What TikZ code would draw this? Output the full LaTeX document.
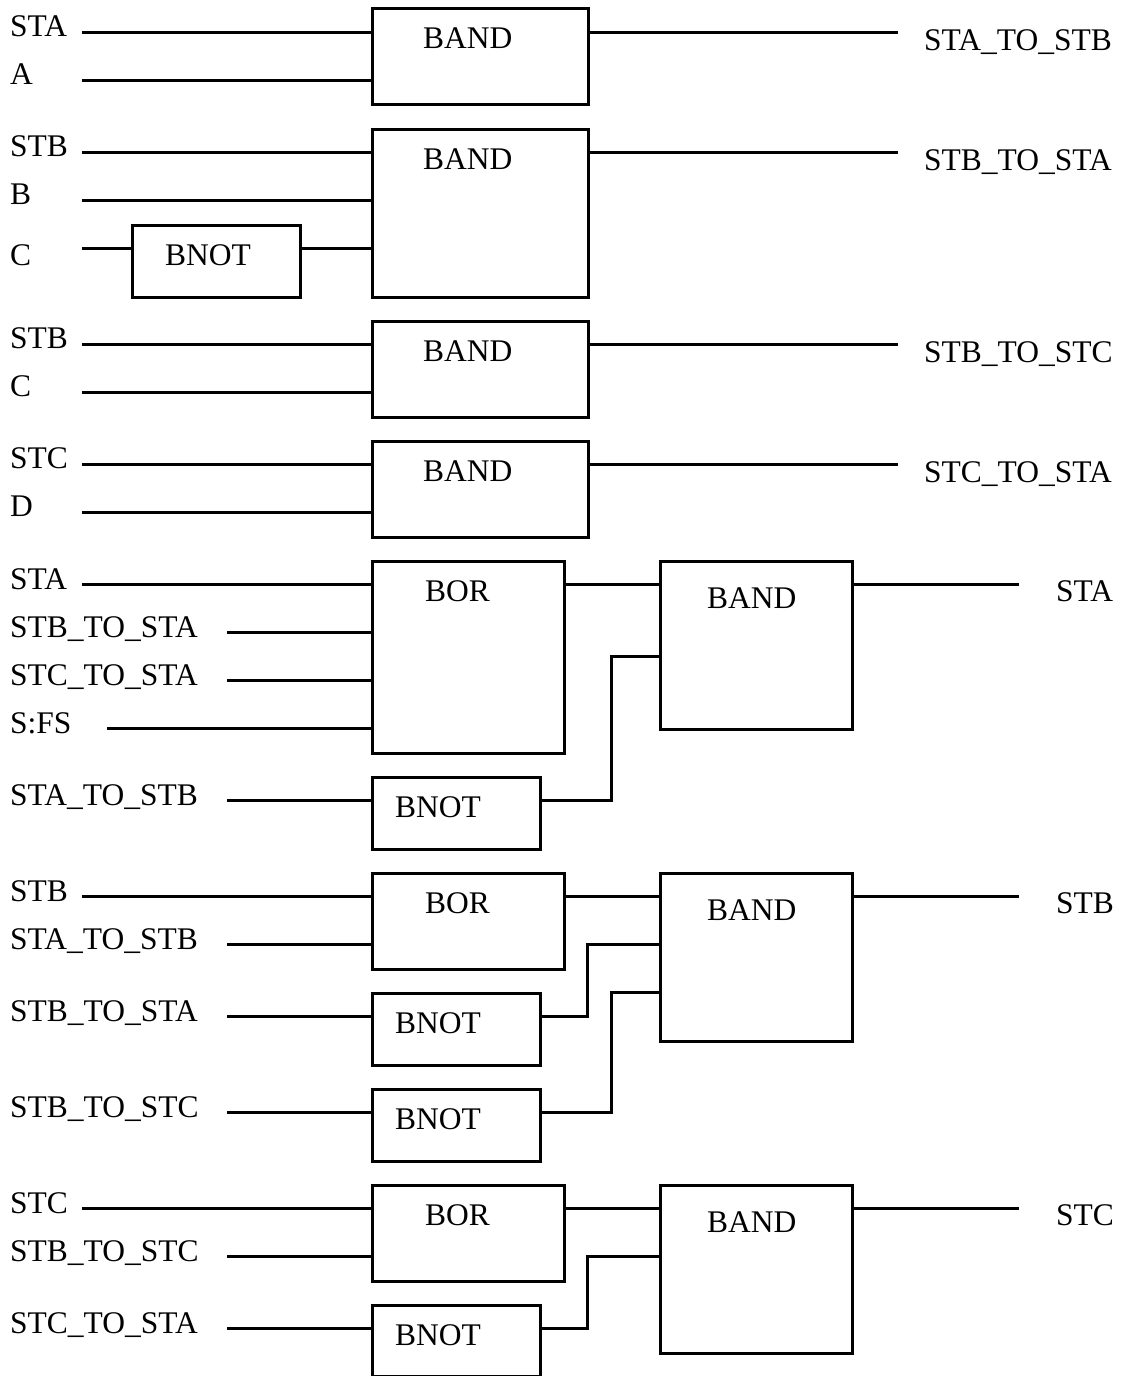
\documentclass[tikz,border=0pt]{standalone}
\usepackage{fontspec}
\setmainfont{Liberation Serif}
\usetikzlibrary{calc}

\tikzset{
  blk/.style={draw,line width=3pt,inner sep=0pt,anchor=north west},
  gname/.style={anchor=base west,inner sep=0pt,font=\fontsize{31.5}{36}\selectfont},
  sig/.style={anchor=base west,inner sep=0pt,font=\fontsize{31.5}{36}\selectfont},
  wire/.style={line width=3pt}
}

\begin{document}
\begin{tikzpicture}[x=1pt,y=-1pt]
  \useasboundingbox (0,0) rectangle (1125,1376);
  % STA_TO_STB
  \node[blk,minimum width=216pt,minimum height=96pt] (and1) at (371,7) {};
  \node[gname] (and1t) at ($(and1.north west)+(52,41)$) {BAND};
  \foreach \y/\x/\s/\n in {32/82/STA/a,80/82/A/b}{
    \node[sig] (l1\n) at (10,\y+4) {\s};
    \coordinate (i1\n) at (\x,\y);
    \draw[wire] (i1\n) -- (i1\n -| and1.west);
  }
  \coordinate (o1) at (898,32);
  \draw[wire] (and1.east |- o1) -- (o1);
  \node[sig] (r1) at (924,50) {STA\_TO\_STB};

  % STB_TO_STA
  \node[blk,minimum width=216pt,minimum height=168pt] (and2) at (371,128) {};
  \node[gname] (and2t) at ($(and2.north west)+(52,41)$) {BAND};
  \foreach \y/\x/\s/\n in {152/82/STB/a,200/82/B/b}{
    \node[sig] (l2\n) at (10,\y+4) {\s};
    \coordinate (i2\n) at (\x,\y);
    \draw[wire] (i2\n) -- (i2\n -| and2.west);
  }
  \node[blk,minimum width=168pt,minimum height=72pt] (not2) at (131,224) {};
  \node[gname] (not2t) at ($(not2.north west)+(34,41)$) {BNOT};
  \node[sig] (l2c) at (10,265) {C};
  \coordinate (i2c) at (82,248);
  \draw[wire] (i2c) -- (i2c -| not2.west);
  \draw[wire] (not2.east |- i2c) -- (i2c -| and2.west);
  \coordinate (o2) at (898,152);
  \draw[wire] (and2.east |- o2) -- (o2);
  \node[sig] (r2) at (924,170) {STB\_TO\_STA};

  % STB_TO_STC
  \node[blk,minimum width=216pt,minimum height=96pt] (and3) at (371,320) {};
  \node[gname] (and3t) at ($(and3.north west)+(52,41)$) {BAND};
  \foreach \y/\x/\s/\n in {344/82/STB/a,392/82/C/b}{
    \node[sig] (l3\n) at (10,\y+4) {\s};
    \coordinate (i3\n) at (\x,\y);
    \draw[wire] (i3\n) -- (i3\n -| and3.west);
  }
  \coordinate (o3) at (898,344);
  \draw[wire] (and3.east |- o3) -- (o3);
  \node[sig] (r3) at (924,362) {STB\_TO\_STC};

  % STC_TO_STA
  \node[blk,minimum width=216pt,minimum height=96pt] (and4) at (371,440) {};
  \node[gname] (and4t) at ($(and4.north west)+(52,41)$) {BAND};
  \foreach \y/\x/\s/\n in {464/82/STC/a,512/82/D/b}{
    \node[sig] (l4\n) at (10,\y+4) {\s};
    \coordinate (i4\n) at (\x,\y);
    \draw[wire] (i4\n) -- (i4\n -| and4.west);
  }
  \coordinate (o4) at (898,464);
  \draw[wire] (and4.east |- o4) -- (o4);
  \node[sig] (r4) at (924,482) {STC\_TO\_STA};

  % STA
  \node[blk,minimum width=192pt,minimum height=192pt] (or5) at (371,560) {};
  \node[gname] (or5t) at ($(or5.north west)+(54,41)$) {BOR};
  \foreach \y/\x/\s/\n in {584/82/STA/a,632/227/STB\_TO\_STA/b,680/227/STC\_TO\_STA/c,728/107/S:FS/d}{
    \node[sig] (l5\n) at (10,\y+5) {\s};
    \coordinate (i5\n) at (\x,\y);
    \draw[wire] (i5\n) -- (i5\n -| or5.west);
  }
  \node[blk,minimum width=168pt,minimum height=72pt] (not5) at (371,776) {};
  \node[gname] (not5t) at ($(not5.north west)+(24,41)$) {BNOT};
  \node[sig] (l5e) at (10,805) {STA\_TO\_STB};
  \coordinate (i5e) at (227,800);
  \draw[wire] (i5e) -- (i5e -| not5.west);
  \node[blk,minimum width=192pt,minimum height=168pt] (and5) at (659,560) {};
  \node[gname] (and5t) at ($(and5.north west)+(48,48)$) {BAND};
  \draw[wire] (or5.east |- i5a) -- (i5a -| and5.west);
  \coordinate (k5) at (611,656);
  \draw[wire] (not5.east |- i5e) -| (k5) -- (k5 -| and5.west);
  \coordinate (o5) at (1019,584);
  \draw[wire] (and5.east |- o5) -- (o5);
  \node[sig] (r5) at (1056,601) {STA};

  % STB
  \node[blk,minimum width=192pt,minimum height=96pt] (or6) at (371,872) {};
  \node[gname] (or6t) at ($(or6.north west)+(54,41)$) {BOR};
  \foreach \y/\x/\s/\n in {896/82/STB/a,944/227/STA\_TO\_STB/b}{
    \node[sig] (l6\n) at (10,\y+5) {\s};
    \coordinate (i6\n) at (\x,\y);
    \draw[wire] (i6\n) -- (i6\n -| or6.west);
  }
  \node[blk,minimum width=168pt,minimum height=72pt] (not6a) at (371,992) {};
  \node[gname] (not6at) at ($(not6a.north west)+(24,41)$) {BNOT};
  \node[blk,minimum width=168pt,minimum height=72pt] (not6b) at (371,1088) {};
  \node[gname] (not6bt) at ($(not6b.north west)+(24,41)$) {BNOT};
  \foreach \y/\s/\n in {1016/STB\_TO\_STA/c,1112/STB\_TO\_STC/d}{
    \node[sig] (l6\n) at (10,\y+5) {\s};
    \coordinate (i6\n) at (227,\y);
  }
  \draw[wire] (i6c) -- (i6c -| not6a.west);
  \draw[wire] (i6d) -- (i6d -| not6b.west);
  \node[blk,minimum width=192pt,minimum height=168pt] (and6) at (659,872) {};
  \node[gname] (and6t) at ($(and6.north west)+(48,48)$) {BAND};
  \draw[wire] (or6.east |- i6a) -- (i6a -| and6.west);
  \coordinate (k6a) at (587,944);
  \coordinate (k6b) at (611,992);
  \draw[wire] (not6a.east |- i6c) -| (k6a) -- (k6a -| and6.west);
  \draw[wire] (not6b.east |- i6d) -| (k6b) -- (k6b -| and6.west);
  \coordinate (o6) at (1019,896);
  \draw[wire] (and6.east |- o6) -- (o6);
  \node[sig] (r6) at (1056,913) {STB};

  % STC
  \node[blk,minimum width=192pt,minimum height=96pt] (or7) at (371,1184) {};
  \node[gname] (or7t) at ($(or7.north west)+(54,41)$) {BOR};
  \foreach \y/\x/\s/\n in {1208/82/STC/a,1256/227/STB\_TO\_STC/b}{
    \node[sig] (l7\n) at (10,\y+5) {\s};
    \coordinate (i7\n) at (\x,\y);
    \draw[wire] (i7\n) -- (i7\n -| or7.west);
  }
  \node[blk,minimum width=168pt,minimum height=71pt] (not7) at (371,1304) {};
  \node[gname] (not7t) at ($(not7.north west)+(24,41)$) {BNOT};
  \node[sig] (l7c) at (10,1333) {STC\_TO\_STA};
  \coordinate (i7c) at (227,1328);
  \draw[wire] (i7c) -- (i7c -| not7.west);
  \node[blk,minimum width=192pt,minimum height=168pt] (and7) at (659,1184) {};
  \node[gname] (and7t) at ($(and7.north west)+(48,48)$) {BAND};
  \draw[wire] (or7.east |- i7a) -- (i7a -| and7.west);
  \coordinate (k7) at (587,1256);
  \draw[wire] (not7.east |- i7c) -| (k7) -- (k7 -| and7.west);
  \coordinate (o7) at (1019,1208);
  \draw[wire] (and7.east |- o7) -- (o7);
  \node[sig] (r7) at (1056,1225) {STC};
\end{tikzpicture}
\end{document}
